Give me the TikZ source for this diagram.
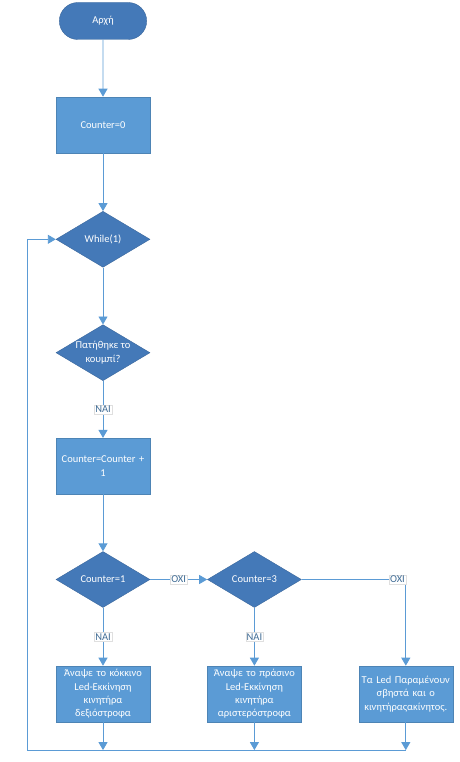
\documentclass[tikz,border=0pt]{standalone}
\usepackage{fontspec}
\setmainfont{Carlito}
\usetikzlibrary{arrows.meta,positioning,shapes.geometric,shapes.misc}
\definecolor{boxblue}{HTML}{5B9BD5}
\definecolor{decblue}{HTML}{4479B8}
\definecolor{lineblue}{HTML}{5B9BD5}
\tikzset{
  terminal/.style={
    rounded rectangle,
    draw=decblue!85!black,
    fill=decblue,
    text=white,
    minimum width=94pt,
    minimum height=37pt
  },
  procbox/.style={
    rectangle,
    draw=boxblue!85!black,
    fill=boxblue,
    text=white,
    align=center,
    text width=90pt,
    minimum width=94pt,
    minimum height=56pt,
    inner sep=2pt
  },
  decision/.style={
    diamond,
    aspect=1.7,
    draw=decblue!85!black,
    fill=decblue,
    text=white,
    align=center,
    minimum width=94pt,
    minimum height=56pt,
    inner sep=-8pt
  },
  answer/.style={
    fill=white,
    draw=gray!25,
    line width=0.3pt,
    inner sep=1pt,
    text=lineblue!70!black
  },
  flowline/.style={-{Triangle[width=9pt,length=8pt]},draw=lineblue,line width=0.9pt}
}

\begin{document}
\begin{tikzpicture}[x=1pt,y=-1pt,node distance=57pt and 57pt,font=\fontsize{10.5}{13.3}\selectfont]
  \useasboundingbox (0,0) rectangle (459,762);
  \node[terminal] (start) at (103,21) {Αρχή};
  \node[procbox, below=of start] (init) {Counter=0};
  \node[decision, below=58pt of init] (loop) {While(1)};
  \node[decision, below=of loop] (pressed) {Πατήθηκε το\\κουμπί?};
  \node[procbox, below=of pressed] (incr) {Counter=Counter +\\1};
  \node[decision, below=of incr] (cone) {Counter=1};
  \node[decision, right=of cone] (cthree) {Counter=3};
  \node[procbox, below=58pt of cone] (redled) {Άναψε το κόκκινο\\Led-Εκκίνηση\\κινητήρα\\δεξιόστροφα};
  \node[procbox, below=58pt of cthree] (greenled) {Άναψε το πράσινο\\Led-Εκκίνηση\\κινητήρα\\αριστερόστροφα};
  \node[procbox, right=of greenled] (noled) {Τα Led Παραμένουν\\σβηστά και ο\\κινητήραςακίνητος.};
  \coordinate[below=28pt of redled.south] (endone);
  \coordinate[below=28pt of greenled.south] (endtwo);
  \coordinate[below=28pt of noled.south] (endthree);
  \coordinate[left=76pt of endone] (back);
  \draw[flowline] (start) -- (init);
  \draw[flowline] (init) -- (loop);
  \draw[flowline] (loop) -- (pressed);
  \draw[flowline] (pressed) -- node[answer]{ΝΑΙ} (incr);
  \draw[flowline] (incr) -- (cone);
  \draw[flowline] (cone) -- node[answer]{ΝΑΙ} (redled);
  \draw[flowline] (cone) -- node[answer]{ΟΧΙ} (cthree);
  \draw[flowline] (cthree) -- node[answer]{ΝΑΙ} (greenled);
  \draw[flowline] (cthree.east) -| node[answer, pos=0.46]{ΟΧΙ} (noled.north);
  \draw[flowline] (redled) -- (endone);
  \draw[flowline] (greenled) -- (endtwo);
  \draw[flowline] (noled) -- (endthree);
  \draw[flowline] (endthree) -- (back) |- (loop.west);
\end{tikzpicture}
\end{document}
